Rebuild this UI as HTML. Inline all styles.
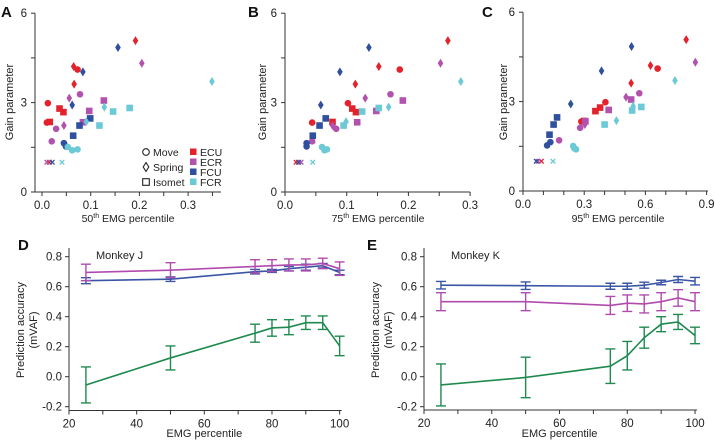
<!DOCTYPE html>
<html><head><meta charset="utf-8"><style>
body{margin:0;background:#fff;}
svg{display:block;font-family:"Liberation Sans",sans-serif;}
</style></head><body>
<svg id="fig" width="715" height="443" viewBox="0 0 715 443" xmlns="http://www.w3.org/2000/svg"></svg>
<script>
// ---- scatter data (gain parameter shared across panels) ----
const ecuShape=['d','d','c','d','c','s','s','c','s','x'];
const ecuGain=[5.08,4.21,4.11,3.62,2.98,2.80,2.68,2.33,2.35,1.0];
const ecuA=[0.192,0.065,0.073,0.066,0.012,0.036,0.044,0.010,0.016,0.015];
const ecuB=[0.264,0.152,0.186,0.114,0.102,0.109,0.115,0.044,0.077,0.018];
const ecuC=[0.80,0.625,0.66,0.53,0.404,0.378,0.355,0.286,0.30,0.09];
const ecrShape=['d','c','d','s','s','s','d','c','c','x'];
const ecrGain=[4.32,3.28,3.15,3.07,2.72,2.34,2.23,2.12,1.70,1.0];
const ecrA=[0.205,0.078,0.056,0.127,0.097,0.084,0.045,0.029,0.020,0.010];
const ecrB=[0.252,0.171,0.130,0.191,0.148,0.117,0.077,0.083,0.044,0.026];
const ecrC=[0.845,0.57,0.505,0.53,0.42,0.306,0.303,0.28,0.177,0.074];
const fcuShape=['d','d','d','s','s','s','c','c','x'];
const fcuGain=[4.85,4.03,2.92,2.47,2.23,1.89,1.64,1.53,1.0];
const fcuA=[0.156,0.084,0.062,0.099,0.077,0.064,0.045,0.049,0.021];
const fcuB=[0.136,0.089,0.058,0.066,0.056,0.045,0.035,0.035,0.022];
const fcuC=[0.532,0.385,0.234,0.167,0.15,0.13,0.134,0.118,0.065];
const fcrShape=['d','d','s','s','s','d','c','c','c','x'];
const fcrGain=[3.71,2.85,2.82,2.70,2.23,2.36,1.51,1.40,1.43,1.0];
const fcrA=[0.349,0.128,0.18,0.146,0.118,0.091,0.053,0.062,0.073,0.041];
const fcrB=[0.285,0.168,0.152,0.125,0.095,0.099,0.06,0.064,0.068,0.045];
const fcrC=[0.745,0.54,0.58,0.535,0.40,0.458,0.246,0.26,0.252,0.147];
// ---- line chart data ----
const pct=[25,50,75,80,85,90,95,100];
const jMag=[0.695,0.71,0.735,0.74,0.745,0.745,0.755,0.72];
const jMagErr=[0.055,0.05,0.045,0.04,0.04,0.04,0.035,0.045];
const jBlue=[0.64,0.65,0.70,0.705,0.72,0.73,0.74,0.695];
const jBlueErr=[0.02,0.015,0.015,0.01,0.015,0.02,0.015,0.015];
const jGreen=[-0.055,0.125,0.29,0.325,0.33,0.36,0.36,0.205];
const jGreenErr=[0.12,0.08,0.06,0.055,0.05,0.045,0.045,0.065];
const kBlue=[0.61,0.607,0.603,0.603,0.61,0.628,0.648,0.637];
const kBlueErr=[0.025,0.025,0.02,0.02,0.02,0.015,0.02,0.025];
const kMag=[0.50,0.50,0.475,0.49,0.485,0.50,0.525,0.50];
const kMagErr=[0.06,0.06,0.06,0.055,0.06,0.06,0.055,0.06];
const kGreen=[-0.055,-0.005,0.07,0.14,0.26,0.35,0.365,0.275];
const kGreenErr=[0.14,0.135,0.115,0.095,0.07,0.05,0.05,0.055];
const lineYTicks=['-0.2','0.0','0.2','0.4','0.6','0.8'];
const lineXTicks=['20','40','60','80','100'];

const NS='http://www.w3.org/2000/svg';
const svg=document.getElementById('fig');
function mk(tag,attrs,parent){const e=document.createElementNS(NS,tag);for(const k in attrs)e.setAttribute(k,attrs[k]);(parent||svg).appendChild(e);return e;}
function txt(s,x,y,attrs,parent){const e=mk('text',Object.assign({x:x,y:y,'font-size':11,fill:'#222'},attrs||{}),parent);e.textContent=s;return e;}
const COL={ECU:'#e3222b',ECR:'#b052ae',FCU:'#2f4f9f',FCR:'#6cc9d6'};

function marker(g,shape,cx,cy,col){
  let e;
  if(shape==='c') e=mk('circle',{cx:cx,cy:cy,r:3.3,fill:col},g);
  else if(shape==='s') e=mk('rect',{x:cx-3.3,y:cy-3.3,width:6.6,height:6.6,fill:col},g);
  else if(shape==='d') e=mk('path',{d:`M${cx},${cy-4.5}L${cx+2.8},${cy}L${cx},${cy+4.5}L${cx-2.8},${cy}Z`,fill:col},g);
  else e=mk('path',{d:`M${cx-2.3},${cy-2.3}L${cx+2.3},${cy+2.3}M${cx+2.3},${cy-2.3}L${cx-2.3},${cy+2.3}`,stroke:col,'stroke-width':1.3,fill:'none'},g);
  return e;
}

function scatterPanel(p){
  const g=mk('g',{});
  
  
  const sx=v=>p.x0+v*p.kx, sy=v=>p.y0-v*p.ky;
  mk('line',{x1:p.yAxisX,y1:sy(6),x2:p.yAxisX,y2:sy(0),stroke:'#333','stroke-width':1},g);
  mk('line',{x1:p.xStart,y1:sy(0),x2:p.xEnd,y2:sy(0),stroke:'#333','stroke-width':1},g);
  [0,1.5,3,4.5,6].forEach(v=>{mk('line',{x1:p.yAxisX-4,y1:sy(v),x2:p.yAxisX,y2:sy(v),stroke:'#333'},g);});
  ['0','3','6'].forEach(s=>{txt(s,p.yAxisX-8,sy(+s)+4,{'text-anchor':'end','font-size':11.5},g);});
  for(let v=0;v<=p.xmax+1e-9;v+=p.minor){mk('line',{x1:sx(v),y1:sy(0),x2:sx(v),y2:sy(0)+4,stroke:'#333'},g);}
  p.xt.forEach(s=>{txt(s,sx(+s),sy(0)+17,{'text-anchor':'middle','font-size':11.5},g);});
  const t=txt('',p.tcx,222,{'text-anchor':'middle','font-size':10.5},g);
  
  t.innerHTML=p.pc+'<tspan font-size="7" dy="-4">th</tspan><tspan dy="4"> EMG percentile</tspan>';
  const yt=txt('Gain parameter',0,0,{'text-anchor':'middle','font-size':11,transform:`translate(${p.ytx},102) rotate(-90)`},g);
  
  const lab=txt(p.id,p.lx,17,{'font-size':15,'font-weight':'bold',fill:'#111'},g);
  
  [['ECU',p.ecu],['ECR',p.ecr],['FCU',p.fcu],['FCR',p.fcr]].forEach(([m,xs])=>{
    const sh={ECU:ecuShape,ECR:ecrShape,FCU:fcuShape,FCR:fcrShape}[m];
    const gy={ECU:ecuGain,ECR:ecrGain,FCU:fcuGain,FCR:fcrGain}[m];
    xs.forEach((v,i)=>{const e=marker(g,sh[i],sx(v),sy(gy[i]),COL[m]);
      
      });
  });
}
scatterPanel({id:'A',x0:42,kx:487,y0:192,ky:29.8,yAxisX:35,xStart:32,xEnd:221,xmax:0.36,minor:0.05,xt:['0.0','0.1','0.2','0.3'],pc:'50',tcx:128,ytx:13,lx:1,ecu:ecuA,ecr:ecrA,fcu:fcuA,fcr:fcrA});
scatterPanel({id:'B',x0:285,kx:617,y0:192,ky:29.8,yAxisX:285,xStart:285,xEnd:470,xmax:0.3,minor:0.05,xt:['0.0','0.1','0.2','0.3'],pc:'75',tcx:378,ytx:266,lx:248,ecu:ecuB,ecr:ecrB,fcu:fcuB,fcr:fcrB});
scatterPanel({id:'C',x0:523,kx:204,y0:191,ky:29.8,yAxisX:523,xStart:523,xEnd:708,xmax:0.9,minor:0.1,xt:['0.0','0.3','0.6','0.9'],pc:'95',tcx:618,ytx:507,lx:482,ecu:ecuC,ecr:ecrC,fcu:fcuC,fcr:fcrC});

// legend in panel A
const lg=mk('g',{});


[['c','Move',152],['d','Spring',167],['s','Isomet',182]].forEach(([s,l,y])=>{
  const m=marker(lg,s,146,y,'none');
  m.setAttribute('stroke','#222');m.setAttribute('stroke-width','1.1');
  const t=txt(l,153,y+4,{'font-size':10.5},lg);
  
});
[['ECU',152],['ECR',162],['FCU',172],['FCR',182]].forEach(([m,y])=>{
  mk('rect',{x:190,y:y-3.5,width:6.5,height:6.5,fill:COL[m]},lg);
  const t=txt(m,200,y+4,{'font-size':10.5},lg);
  
});

function linePanel(p){
  const g=mk('g',{});
  
  
  const sx=v=>p.ax+(v-20)*p.kx, sy=v=>p.y0-v*150;
  mk('line',{x1:p.ax,y1:248,x2:p.ax,y2:p.xaY,stroke:'#333'},g);
  mk('line',{x1:p.ax,y1:p.xaY,x2:sx(100)+2,y2:p.xaY,stroke:'#333'},g);
  lineYTicks.forEach(s=>{const v=+s;mk('line',{x1:p.ax-4,y1:sy(v),x2:p.ax,y2:sy(v),stroke:'#333'},g);
    txt(s,p.ax-7,sy(v)+4,{'text-anchor':'end','font-size':11.5},g);});
  for(let v=20;v<=100;v+=10){mk('line',{x1:sx(v),y1:p.xaY,x2:sx(v),y2:p.xaY+4,stroke:'#333'},g);}
  lineXTicks.forEach(s=>txt(s,sx(+s),p.xaY+17,{'text-anchor':'middle','font-size':11.5},g));
  const xt=txt('EMG percentile',sx(60),437,{'text-anchor':'middle','font-size':11},g);
  
  const y1=txt('Prediction accuracy',0,0,{'text-anchor':'middle','font-size':11,transform:`translate(${p.ax-45},330) rotate(-90)`},g);
  
  txt('(mVAF)',0,0,{'text-anchor':'middle','font-size':11,transform:`translate(${p.ax-32},330) rotate(-90)`},g);
  const lab=txt(p.id,p.lx,250,{'font-size':15,'font-weight':'bold',fill:'#111'},g);
  
  txt(p.title,p.ax+27,259,{'font-size':11},g);
  p.series.forEach(([name,ys,es,col,cw])=>{
    const sg=mk('g',{},g);
    
    
    mk('polyline',{points:pct.map((x,i)=>sx(x)+','+sy(ys[i])).join(' '),fill:'none',stroke:col,'stroke-width':1.6},sg);
    pct.forEach((x,i)=>{const X=sx(x),a=sy(ys[i]+es[i]),b=sy(ys[i]-es[i]);
      mk('path',{d:`M${X},${a}L${X},${b}M${X-cw},${a}L${X+cw},${a}M${X-cw},${b}L${X+cw},${b}`,stroke:col,'stroke-width':1.4,fill:'none'},sg);});
  });
}
linePanel({id:'D',ax:69,kx:3.383,y0:376.7,xaY:410.5,lx:18,title:'Monkey J',series:[
  ['green-series',jGreen,jGreenErr,'#1f8a4f',5],['blue-series',jBlue,jBlueErr,'#3a55a6',5],['magenta-series',jMag,jMagErr,'#b04bae',5]]});
linePanel({id:'E',ax:424,kx:3.388,y0:376.7,xaY:410,lx:367,title:'Monkey K',series:[
  ['green-series',kGreen,kGreenErr,'#1f8a4f',5],['magenta-series',kMag,kMagErr,'#b04bae',5],['blue-series',kBlue,kBlueErr,'#3a55a6',5]]});
</script>
</body></html>
